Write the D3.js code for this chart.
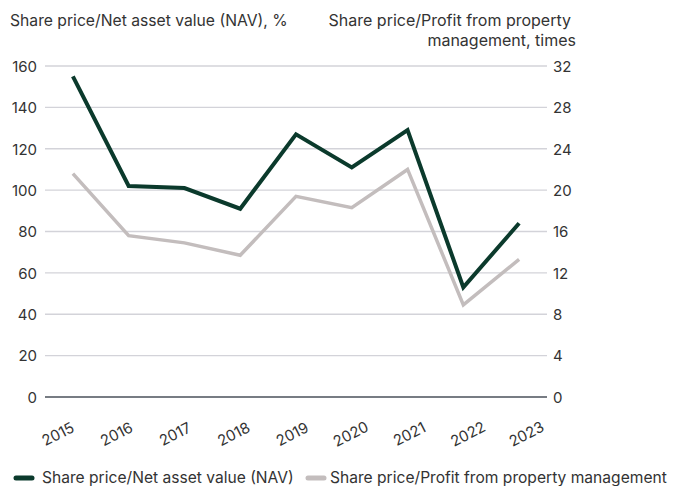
<!DOCTYPE html>
<html><head><meta charset="utf-8">
<script src="https://cdn.jsdelivr.net/npm/d3@7"></script>
<style>
html,body{margin:0;padding:0;background:#fff;}
text{font-family:Inter, "Open Sans", sans-serif;fill:#333;}
</style></head>
<body><svg id="c" width="679" height="486"></svg>
<script>
const years = ["2015","2016","2017","2018","2019","2020","2021","2022","2023"];
const navValues = [155, 102, 101, 91, 127, 111, 129, 53, 84];
const profitValues = [21.6, 15.6, 14.9, 13.7, 19.4, 18.3, 22.0, 8.9, 13.3];
const leftTicks = [0,20,40,60,80,100,120,140,160];
const rightTicks = [0,4,8,12,16,20,24,28,32];
const seriesNames = ["Share price/Net asset value (NAV)", "Share price/Profit from property management"];
const leftTitle = "Share price/Net asset value (NAV), %";
const rightTitle = ["Share price/Profit from property", "management, times"];

const svg = d3.select("#c");
const x0 = 45, x1 = 547, yTop = 66, yBot = 397;
const x = d3.scalePoint().domain(years).range([x0, x1]).padding(0.5);
const xLab = d3.scalePoint().domain(years).range([57.5, 526]).padding(0);
const yL = d3.scaleLinear().domain([0,160]).range([yBot, yTop]);
const yR = d3.scaleLinear().domain([0,32]).range([yBot, yTop]);
const darkC = "#0b3a2c", greyC = "#c3bdbd";

// gridlines
svg.append("g").selectAll("line").data(leftTicks).join("line")
  .attr("x1", x0).attr("x2", x1)
  .attr("y1", d=>yL(d)).attr("y2", d=>yL(d))
  .attr("stroke", d=> d===0 ? "#4a505a" : "#d3d3d9").attr("stroke-width", d=> d===0?1.5:1.3);

// left axis
const gl = svg.append("g").attr("transform", `translate(${x0-8},0)`)
  .call(d3.axisLeft(yL).tickValues(leftTicks).tickSize(0).tickPadding(0));
gl.select(".domain").remove();
gl.selectAll("text").attr("font-size", 15).attr("fill", "#333").style("font-family","Inter").attr("dy","0.35em");

const gr = svg.append("g").attr("transform", `translate(${x1+6},0)`)
  .call(d3.axisRight(yR).tickValues(rightTicks).tickSize(0).tickPadding(0));
gr.select(".domain").remove();
gr.selectAll("text").attr("font-size", 15).attr("fill", "#333").style("font-family","Inter").attr("dy","0.35em");

// x axis labels
const gx = svg.append("g").attr("transform", `translate(0,434)`)
  .call(d3.axisBottom(xLab).tickSize(0).tickPadding(0));
gx.select(".domain").remove();
gx.selectAll("text").attr("font-size", 15).attr("fill","#333").style("font-family","Inter")
  .attr("text-anchor","middle").attr("dy","0.35em").attr("y",0)
  .attr("transform","rotate(-27)");

// lines
const lineL = d3.line().x((d,i)=>x(years[i])).y(d=>yL(d));
const lineR = d3.line().x((d,i)=>x(years[i])).y(d=>yR(d));
svg.append("path").datum(profitValues).attr("d", lineR).attr("fill","none")
  .attr("stroke", greyC).attr("stroke-width", 3.5).attr("stroke-linejoin","miter");
svg.append("path").datum(navValues).attr("d", lineL).attr("fill","none")
  .attr("stroke", darkC).attr("stroke-width", 4).attr("stroke-linejoin","miter");

// titles
svg.append("text").attr("x", 10).attr("y", 26).attr("font-size", 15.7).text(leftTitle);
svg.append("text").attr("text-anchor","end").attr("font-size",16)
  .selectAll("tspan").data(rightTitle).join("tspan")
  .attr("x", (d,i)=> i===0 ? 571 : 576).attr("y",(d,i)=>26+i*20).text(d=>d);

// legend
const lg = svg.append("g");
const items = [{n:seriesNames[0], c:darkC, x:16, tx:42},{n:seriesNames[1], c:greyC, x:308, tx:330}];
items.forEach(it=>{
  lg.append("line").attr("x1", it.x).attr("x2", it.x+16).attr("y1",478).attr("y2",478)
    .attr("stroke", it.c).attr("stroke-width",5).attr("stroke-linecap","round");
  lg.append("text").attr("x", it.tx).attr("y",478).attr("dy","0.35em").attr("font-size",15.6).text(it.n);
});
</script></body></html>
